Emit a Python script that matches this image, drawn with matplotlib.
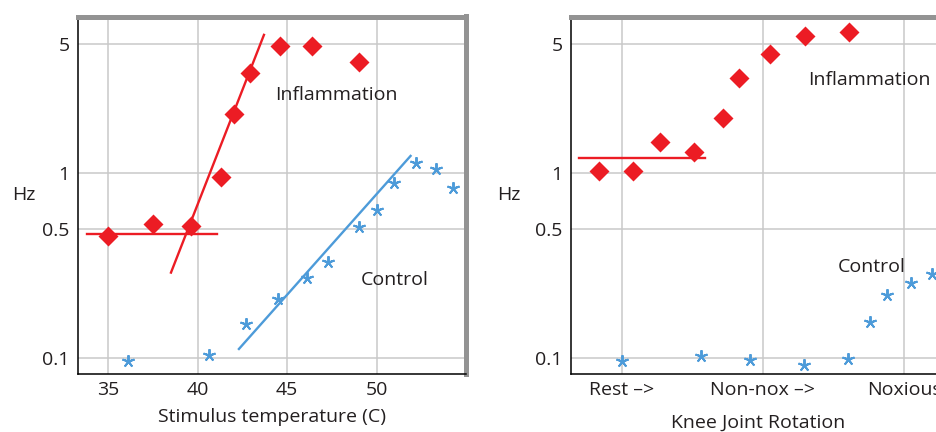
import matplotlib
matplotlib.use("Agg")
import matplotlib.pyplot as plt

plt.rcParams["font.family"] = ["Open Sans", "DejaVu Sans"]

# temperature panel
temp_infl_x = [35.0, 37.5, 39.6, 41.3, 42.0, 42.9, 44.6, 46.4, 49.0]
temp_infl_y = [0.46, 0.53, 0.52, 0.95, 2.1, 3.5, 4.9, 4.85, 4.0]
temp_ctrl_x = [36.1, 40.6, 42.7, 44.5, 46.1, 47.3, 49.0, 50.0, 51.0, 52.2, 53.3, 54.3]
temp_ctrl_y = [0.097, 0.104, 0.153, 0.208, 0.27, 0.33, 0.51, 0.63, 0.89, 1.13, 1.06, 0.83]
temp_base_x = [33.8, 41.1]
temp_base_y = [0.47, 0.47]
temp_fit_x = [38.5, 43.7]
temp_fit_y = [0.29, 5.6]
ctrl_fit_x = [42.3, 51.9]
ctrl_fit_y = [0.112, 1.24]

# knee rotation panel
knee_labels = ["Rest \u2013>", "Non-nox \u2013>", "Noxious"]
knee_infl_x = [-0.16, 0.08, 0.27, 0.51, 0.72, 0.83, 1.05, 1.30, 1.61]
knee_infl_y = [1.03, 1.03, 1.47, 1.3, 2.0, 3.28, 4.43, 5.55, 5.8]
knee_ctrl_x = [0.0, 0.56, 0.91, 1.29, 1.60, 1.76, 1.88, 2.05, 2.20]
knee_ctrl_y = [0.097, 0.103, 0.098, 0.092, 0.099, 0.157, 0.22, 0.254, 0.286]
knee_base_x = [-0.30, 0.59]
knee_base_y = [1.21, 1.21]

yticks = [0.1, 0.5, 1, 5]
ytick_labels = ["0.1", "0.5", "1", "5"]

red = "#ec1c24"
blue = "#4d9bd9"
grid_c = "#c9c9c9"
border_c = "#939393"
txt = "#231f20"
fs = 14

fig = plt.figure(figsize=(9.37, 4.32), dpi=100)
ax1 = fig.add_axes([78/937, 58/432, 388/937, 357.5/432])
ax2 = fig.add_axes([571/937, 58/432, 429/937, 357.5/432])

star = (5, 2, 0)

for ax in (ax1, ax2):
    ax.set_yscale("log")
    ax.set_ylim(0.082, 7.04)
    ax.set_yticks(yticks)
    ax.set_yticklabels(ytick_labels)
    ax.minorticks_off()
    ax.tick_params(length=0, labelsize=fs, labelcolor=txt)
    ax.tick_params(axis="y", pad=6)
    ax.tick_params(axis="x", pad=5)
    ax.grid(True, color=grid_c, lw=1.1)
    ax.set_axisbelow(True)
    ax.spines["left"].set_color("#000000")
    ax.spines["bottom"].set_color("#000000")
    ax.spines["left"].set_linewidth(1.1)
    ax.spines["bottom"].set_linewidth(1.1)
    ax.spines["top"].set_color(border_c)
    ax.spines["top"].set_linewidth(3.6)
    ax.spines["right"].set_color(border_c)
    ax.spines["right"].set_linewidth(3.6)
    ax.set_ylabel("Hz", rotation=0, fontsize=fs, color=txt, va="center", ha="center")

# left panel
ax1.set_xlim(33.3, 55.0)
ax1.set_xticks([35, 40, 45, 50])
ax1.plot(temp_base_x, temp_base_y, color=red, lw=1.7)
ax1.plot(temp_fit_x, temp_fit_y, color=red, lw=1.7)
ax1.plot(ctrl_fit_x, ctrl_fit_y, color=blue, lw=1.7)
ax1.plot(temp_infl_x, temp_infl_y, "D", color=red, ms=10, mec="none")
ax1.plot(temp_ctrl_x, temp_ctrl_y, ls="none", marker=star, color=blue, ms=9, mew=1.4)
ax1.text(44.3, 2.65, "Inflammation", fontsize=fs, color=txt, va="center")
ax1.text(49.1, 0.265, "Control", fontsize=fs, color=txt, va="center")
ax1.set_xlabel("Stimulus temperature (C)", fontsize=fs, color=txt, va="center")
ax1.xaxis.set_label_coords(0.5, -0.12)
ax1.yaxis.set_label_coords(-0.139, 0.5)

# right panel
ax2.set_xlim(-0.36, 2.68)
ax2.set_xticks([0, 1, 2])
ax2.set_xticklabels(knee_labels)
ax2.plot(knee_base_x, knee_base_y, color=red, lw=1.7)
ax2.plot(knee_infl_x, knee_infl_y, "D", color=red, ms=10, mec="none")
ax2.plot(knee_ctrl_x, knee_ctrl_y, ls="none", marker=star, color=blue, ms=9, mew=1.4)
ax2.text(1.32, 3.2, "Inflammation", fontsize=fs, color=txt, va="center")
ax2.text(1.53, 0.31, "Control", fontsize=fs, color=txt, va="center")
ax2.set_xlabel("Knee Joint Rotation", fontsize=fs, color=txt, va="center")
ax2.xaxis.set_label_coords(0.436, -0.137)
ax2.yaxis.set_label_coords(-0.1445, 0.5)

fig.savefig("out.png", dpi=100)
